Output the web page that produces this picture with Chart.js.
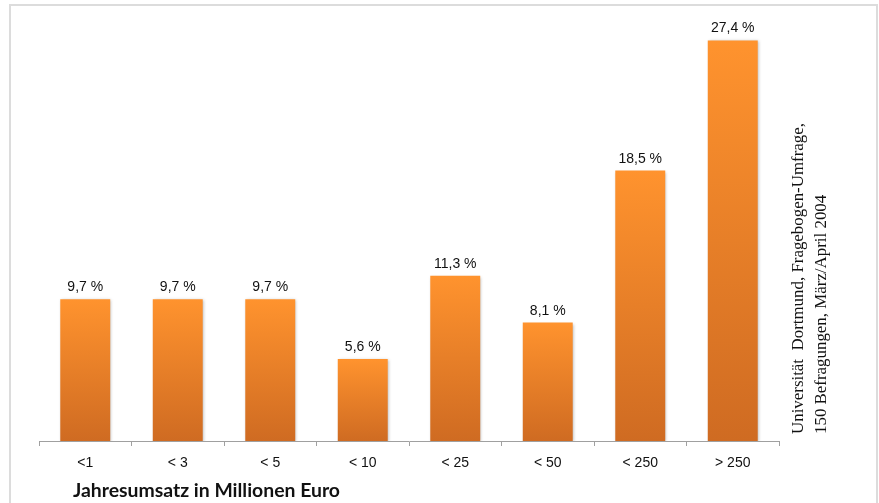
<!DOCTYPE html>
<html>
<head>
<meta charset="utf-8">
<script src="https://cdn.jsdelivr.net/npm/chart.js@4.4.1/dist/chart.umd.min.js"></script>
<style>
  html, body { margin: 0; padding: 0; background: #fff; }
  #wrap { width: 879px; height: 503px; position: relative; }
</style>
</head>
<body>
<div id="wrap"><canvas id="umsatz-chart" width="879" height="503"></canvas></div>
<script>
// Kategorien und Werte (Anteil in %)
const categories = ['<1', '< 3', '< 5', '< 10', '< 25', '< 50', '< 250', '> 250'];
const shares = [9.7, 9.7, 9.7, 5.6, 11.3, 8.1, 18.5, 27.4];
const axisTitle = 'Jahresumsatz in Millionen Euro';
const sourceLines = ['Universität  Dortmund, Fragebogen-Umfrage,', '150 Befragungen, März/April 2004'];

function fmt(v) {
  return v.toFixed(1).replace('.', ',') + ' %';
}

// Verlauf pro Balken: oben hell, unten dunkel
function barGradient(ctx) {
  const chart = ctx.chart;
  const yScale = chart.scales.y;
  if (!yScale || ctx.parsed == null) return '#f28a2c';
  const top = yScale.getPixelForValue(ctx.parsed.y);
  const base = yScale.getPixelForValue(0);
  if (!isFinite(top) || !isFinite(base) || top === base) return '#f28a2c';
  const g = chart.ctx.createLinearGradient(0, top, 0, base);
  g.addColorStop(0, '#ff932e');
  g.addColorStop(1, '#cf6b22');
  return g;
}

const decorations = {
  id: 'decorations',
  beforeDraw(chart) {
    const c = chart.ctx;
    c.save();
    c.strokeStyle = '#dcdcdc';
    c.lineWidth = 2;
    c.beginPath();
    c.moveTo(10, 520);
    c.lineTo(10, 5);
    c.lineTo(877, 5);
    c.lineTo(877, 520);
    c.stroke();
    c.restore();
  },
  beforeDatasetsDraw(chart) {
    const c = chart.ctx;
    c.save();
    c.shadowColor = 'rgba(0,0,0,0.28)';
    c.shadowBlur = 3;
    c.shadowOffsetX = 1;
    c.shadowOffsetY = 1;
  },
  afterDatasetsDraw(chart) {
    const c = chart.ctx;
    c.restore();
    c.save();
    c.fillStyle = '#111';
    c.font = '14px "Liberation Sans", Arial, sans-serif';
    c.textAlign = 'center';
    c.textBaseline = 'alphabetic';
    chart.getDatasetMeta(0).data.forEach((bar, i) => {
      c.fillText(fmt(shares[i]), bar.x, bar.y - 8);
    });
    c.restore();
  },
  afterDraw(chart) {
    const c = chart.ctx;
    c.save();
    c.fillStyle = '#111';
    c.font = 'bold 19.4px Lato, "Open Sans", sans-serif';
    c.textAlign = 'left';
    c.textBaseline = 'alphabetic';
    c.fillText(axisTitle, 73, 497);

    // Quelle, um 90° gedreht
    c.font = '16.9px "Liberation Serif", "Times New Roman", serif';
    c.fillStyle = '#111';
    c.translate(0, 434);
    c.rotate(-Math.PI / 2);
    c.fillText(sourceLines[0], 0, 803);
    c.fillText(sourceLines[1], 0, 826);
    c.restore();
  }
};

new Chart(document.getElementById('umsatz-chart').getContext('2d'), {
  type: 'bar',
  data: {
    labels: categories,
    datasets: [{
      data: shares,
      backgroundColor: barGradient,
      borderWidth: 0,
      barPercentage: 0.54,
      categoryPercentage: 1
    }]
  },
  options: {
    responsive: false,
    animation: false,
    devicePixelRatio: 1,
    layout: { padding: { left: 39, right: 100, top: 17, bottom: 0 } },
    plugins: {
      legend: { display: false },
      tooltip: { enabled: false }
    },
    scales: {
      x: {
        afterFit: scale => { scale.height = 62; },
        grid: {
          display: true,
          drawOnChartArea: false,
          drawTicks: true,
          tickLength: 5,
          color: '#a0a0a0',
          offset: true
        },
        border: { display: true, color: '#a0a0a0', width: 1 },
        ticks: {
          color: '#111',
          padding: 9,
          font: { family: '"Liberation Sans", Arial, sans-serif', size: 14 },
          maxRotation: 0
        }
      },
      y: {
        display: false,
        min: 0,
        max: 29
      }
    }
  },
  plugins: [decorations]
});
</script>
</body>
</html>
